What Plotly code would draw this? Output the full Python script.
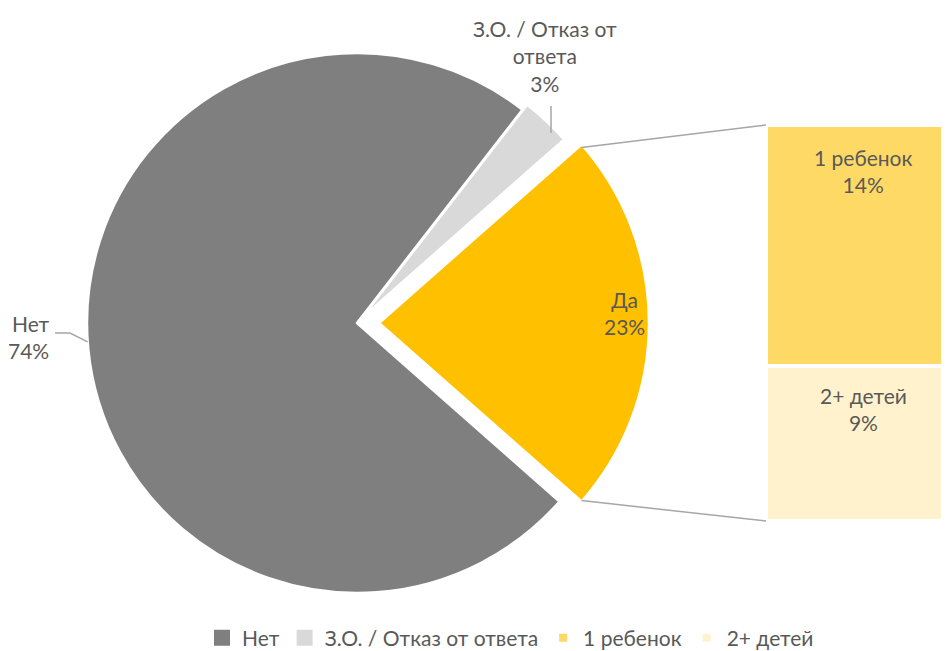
import math

import plotly.graph_objects as go

# data
SHARE_LABELS = ["Да", "З.О. / Отказ от ответа", "Нет"]
SHARE_VALUES = [23, 3, 74]
SHARE_COLORS = ["#ffc000", "#d9d9d9", "#7f7f7f"]

CHILD_LABELS = ["1 ребенок", "2+ детей"]
CHILD_VALUES = [14, 9]
CHILD_COLORS = ["#ffd966", "#fff2cc"]

LEGEND_LABELS = ["Нет", "З.О. / Отказ от ответа", "1 ребенок", "2+ детей"]
LEGEND_COLORS = ["#7f7f7f", "#d9d9d9", "#ffd966", "#fff2cc"]
LEGEND_SIZES = [16, 16, 8, 8]

# layout constants (pixels in the final screenshot)
W, H = 949, 651
OFF = 8  # default page margin around the plot div
FONT = "Lato, 'Open Sans', sans-serif"
FS = 21
TEXT = "#595959"
CX, CY, R = 357, 323, 270
PULL_PX = 22
BAR_LEFT, BAR_RIGHT = 766, 960
BAR_TOP, BAR_BOTTOM = 125, 521

FW, FH = W - OFF, H - OFF


def px(x):
    return (x - OFF) / FW


def py(y):
    return 1 - (y - OFF) / FH


total = sum(SHARE_VALUES)
da_share = SHARE_VALUES[0] / total
half = da_share * 180  # half-angle of the "Да" slice, degrees
pull = PULL_PX / R
box = R + PULL_PX

fig = go.Figure()

fig.add_trace(
    go.Pie(
        labels=SHARE_LABELS,
        values=SHARE_VALUES,
        sort=False,
        direction="counterclockwise",
        rotation=90 - half,
        pull=[pull, 0.025, 0],
        marker=dict(colors=SHARE_COLORS, line=dict(color="white", width=2.5)),
        textinfo="none",
        hoverinfo="label+percent",
        showlegend=False,
        domain=dict(x=[px(CX - box), px(CX + box)], y=[py(CY + box), py(CY - box)]),
    )
)

# stacked bar (bottom segment first)
child_total = sum(CHILD_VALUES)
for label, value, color in zip(CHILD_LABELS[::-1], CHILD_VALUES[::-1], CHILD_COLORS[::-1]):
    fig.add_trace(
        go.Bar(
            x=[0],
            y=[value],
            width=1,
            name=label,
            marker=dict(color=color, line=dict(color="white", width=4)),
            showlegend=False,
            hovertemplate=f"{label}: %{{y}}%<extra></extra>",
        )
    )

# legend-only entries
for label, color, size in zip(LEGEND_LABELS, LEGEND_COLORS, LEGEND_SIZES):
    fig.add_trace(
        go.Scatter(
            x=[None],
            y=[None],
            mode="markers",
            name=label,
            marker=dict(symbol="square", color=color, size=size),
            xaxis="x2",
            yaxis="y2",
        )
    )

# bar axis mapping: bar spans [-0.5, 0.5] over BAR_LEFT..BAR_RIGHT
x_scale = BAR_RIGHT - BAR_LEFT
x_hi = -0.5 + (OFF + FW - BAR_LEFT) / x_scale
y_scale = (BAR_BOTTOM - BAR_TOP) / child_total
y_lo = -(OFF + FH - BAR_BOTTOM) / y_scale
y_hi = child_total + (BAR_TOP - OFF) / y_scale

annotations = []

# bar labels, near the top of each segment
tops = [child_total, CHILD_VALUES[1]]
shifts = [-18, -15]
for label, value, top, shift in zip(CHILD_LABELS, CHILD_VALUES, tops, shifts):
    annotations.append(
        dict(
            x=0, y=top, xref="x", yref="y",
            text=f"{label}<br>{value}%",
            showarrow=False, xanchor="center", yanchor="top", yshift=shift,
            font=dict(size=FS, color=TEXT, family=FONT),
        )
    )

# pie labels
label_font = dict(size=FS, color=TEXT, family=FONT)
annotations += [
    dict(x=px(624), y=py(313), xref="paper", yref="paper", xanchor="center", yanchor="middle",
         text=f"{SHARE_LABELS[0]}<br>{SHARE_VALUES[0]}%", showarrow=False, font=label_font),
    dict(x=px(52), y=py(337), xref="paper", yref="paper", xanchor="right", yanchor="middle",
         text=f"{SHARE_LABELS[2]}<br>{SHARE_VALUES[2]}%", showarrow=False, align="right",
         font=label_font),
    dict(x=px(545), y=py(56), xref="paper", yref="paper", xanchor="center", yanchor="middle",
         text=f"З.О. / Отказ от<br>ответа<br>{SHARE_VALUES[1]}%", showarrow=False,
         font=label_font),
]

# connector lines from the pulled slice to the bar
ax = CX + PULL_PX
rad = math.radians(half)
corner_top = (ax + R * math.cos(rad), CY - R * math.sin(rad))
corner_bot = (ax + R * math.cos(rad), CY + R * math.sin(rad))
line_style = dict(color="#a6a6a6", width=1.5)
shapes = [
    dict(type="line", xref="paper", yref="paper",
         x0=px(corner_top[0]), y0=py(corner_top[1] + 3), x1=px(BAR_LEFT), y1=py(BAR_TOP),
         line=line_style),
    dict(type="line", xref="paper", yref="paper",
         x0=px(corner_bot[0]), y0=py(corner_bot[1] - 1), x1=px(BAR_LEFT), y1=py(BAR_BOTTOM),
         line=line_style),
]

# leader lines for outside labels
net_end = math.radians(184)
shapes.append(
    dict(type="path", xref="paper", yref="paper",
         path=(f"M {px(55)},{py(333)} L {px(70)},{py(333)} "
               f"L {px(CX + R * math.cos(net_end))},{py(CY - R * math.sin(net_end))}"),
         line=line_style)
)
shapes.append(
    dict(type="line", xref="paper", yref="paper",
         x0=px(551), y0=py(106), x1=px(551), y1=py(133), line=line_style)
)

fig.update_layout(
    width=FW,
    height=FH,
    margin=dict(l=0, r=0, t=0, b=0, autoexpand=False),
    paper_bgcolor="white",
    plot_bgcolor="white",
    barmode="stack",
    bargap=0,
    font=dict(family=FONT, color=TEXT, size=FS),
    xaxis=dict(domain=[px(BAR_LEFT), 1], range=[-0.5, x_hi], visible=False, fixedrange=True),
    yaxis=dict(domain=[0, 1], range=[y_lo, y_hi], visible=False, fixedrange=True),
    xaxis2=dict(domain=[0, 0.01], visible=False),
    yaxis2=dict(domain=[0, 0.01], visible=False),
    legend=dict(
        orientation="h",
        traceorder="normal",
        x=px(W / 2 + 36), xanchor="center",
        y=py(638), yanchor="middle",
        font=dict(size=FS, color=TEXT, family=FONT),
        itemsizing="trace",
        bgcolor="rgba(0,0,0,0)",
    ),
    annotations=annotations,
    shapes=shapes,
)

fig.write_html("out.html")
